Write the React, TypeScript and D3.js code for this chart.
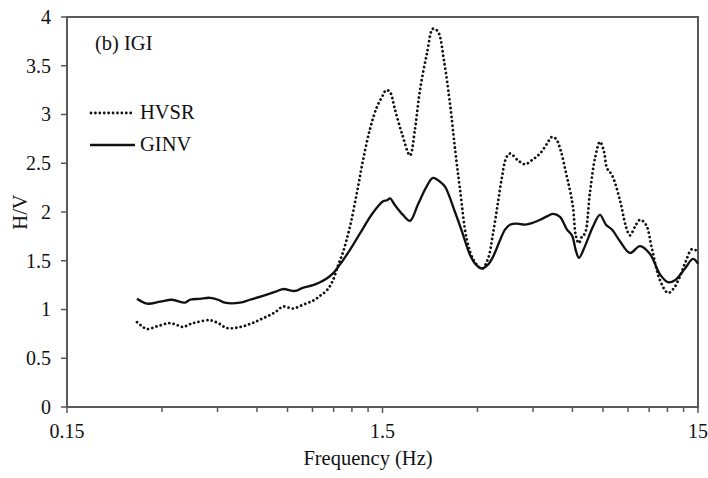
import React from "react";
import * as d3 from "d3";

// Frequency samples (Hz) and spectral ratios for station IGI
const hvsrFreq = [
  0.250, 0.259, 0.269, 0.291, 0.318, 0.335, 0.350, 0.368, 0.387, 0.426,
  0.452, 0.482, 0.530, 0.579, 0.627, 0.684, 0.726, 0.781, 0.840, 0.903,
  0.951, 1.001, 1.045, 1.084, 1.125, 1.183, 1.245, 1.301, 1.369, 1.441,
  1.506, 1.539, 1.584, 1.643, 1.730, 1.833, 1.901, 1.972, 2.076, 2.168,
  2.249, 2.350, 2.455, 2.546, 2.641, 2.779, 2.925, 3.101, 3.239, 3.360,
  3.485, 3.588, 3.694, 3.803, 4.032, 4.244, 4.499, 4.735, 4.982, 5.168,
  5.321, 5.518, 5.723, 5.893, 6.023, 6.156, 6.293, 6.432, 6.574, 6.818,
  7.072, 7.335, 7.552, 7.719, 8.006, 8.487, 8.868, 9.131, 9.470, 9.821,
  10.261, 10.721, 11.367, 12.050, 12.589, 13.152, 13.740, 14.355, 14.891,
];
const hvsrValue = [
  0.87, 0.83, 0.80, 0.83, 0.86, 0.84, 0.82, 0.85, 0.87, 0.89,
  0.86, 0.81, 0.82, 0.86, 0.91, 0.97, 1.03, 1.01, 1.05, 1.09,
  1.14, 1.20, 1.30, 1.45, 1.59, 1.85, 2.20, 2.53, 2.85, 3.08,
  3.20, 3.25, 3.23, 3.05, 2.80, 2.58, 2.85, 3.25, 3.63, 3.88,
  3.85, 3.55, 3.11, 2.65, 2.23, 1.71, 1.50, 1.42, 1.52, 1.78,
  2.10, 2.36, 2.55, 2.60, 2.53, 2.49, 2.54, 2.60, 2.70, 2.77,
  2.75, 2.62, 2.40, 2.22, 2.05, 1.75, 1.68, 1.75, 1.78, 2.20,
  2.55, 2.72, 2.62, 2.45, 2.38, 2.12, 1.85, 1.76, 1.85, 1.92,
  1.87, 1.62, 1.30, 1.17, 1.22, 1.34, 1.50, 1.62, 1.60,
];

const ginvFreq = [
  0.250, 0.269, 0.296, 0.323, 0.355, 0.368, 0.396, 0.426, 0.452, 0.475,
  0.530, 0.570, 0.627, 0.684, 0.726, 0.792, 0.834, 0.903, 0.951, 1.001,
  1.045, 1.076, 1.166, 1.273, 1.390, 1.506, 1.550, 1.584, 1.643, 1.742,
  1.833, 1.944, 2.061, 2.168, 2.282, 2.367, 2.546, 2.679, 2.841, 2.968,
  3.101, 3.239, 3.360, 3.536, 3.667, 3.803, 4.003, 4.244, 4.499, 4.735,
  5.019, 5.205, 5.478, 5.765, 5.979, 6.156, 6.293, 6.574, 6.969, 7.335,
  7.663, 8.006, 8.487, 9.131, 9.821, 10.565, 11.367, 12.050, 12.681, 13.640,
  14.461, 15.000,
];
const ginvValue = [
  1.11, 1.06, 1.08, 1.10, 1.07, 1.10, 1.11, 1.12, 1.10, 1.07,
  1.07, 1.10, 1.14, 1.18, 1.21, 1.19, 1.22, 1.25, 1.28, 1.32,
  1.37, 1.42, 1.58, 1.78, 1.98, 2.11, 2.12, 2.14, 2.07, 1.97,
  1.91, 2.08, 2.25, 2.35, 2.31, 2.26, 2.00, 1.80, 1.56, 1.46,
  1.42, 1.46, 1.54, 1.71, 1.82, 1.87, 1.88, 1.87, 1.89, 1.92,
  1.96, 1.98, 1.95, 1.82, 1.76, 1.60, 1.53, 1.65, 1.85, 1.97,
  1.87, 1.82, 1.70, 1.58, 1.65, 1.57, 1.36, 1.28, 1.30, 1.42,
  1.52, 1.47,
];

const yTicks = [0, 0.5, 1, 1.5, 2, 2.5, 3, 3.5, 4];
const yTickLabels = ["0", "0.5", "1", "1.5", "2", "2.5", "3", "3.5", "4"];
const xMajor = [0.15, 1.5, 15];
const xMajorLabels = ["0.15", "1.5", "15"];
const xMinorMultipliers = [2, 3, 4, 5, 6, 7, 8, 9];

const seriesNames = ["HVSR", "GINV"];
const panelTitle = "(b) IGI";
const xTitle = "Frequency (Hz)";
const yTitle = "H/V";

const W = 708;
const H = 478;
const margin = { left: 67, right: 10, top: 17, bottom: 71 };
const FONT = '"Liberation Serif", "Times New Roman", Times, "DejaVu Serif", serif';
const AXIS = "#595959";
const INK = "#111";
const DOTS = "0.01 4.4";

export default function App() {
  const x = d3
    .scaleLog()
    .domain([0.15, 15])
    .range([margin.left, W - margin.right]);
  const y = d3
    .scaleLinear()
    .domain([0, 4])
    .range([H - margin.bottom, margin.top]);

  const line = d3
    .line<[number, number]>()
    .x((d) => x(d[0]))
    .y((d) => y(d[1]))
    .curve(d3.curveCatmullRom.alpha(0.5));

  const hvsr = hvsrFreq.map((f, i) => [f, hvsrValue[i]] as [number, number]);
  const ginv = ginvFreq.map((f, i) => [f, ginvValue[i]] as [number, number]);

  const minorTicks: number[] = [];
  xMajor.slice(0, -1).forEach((m) =>
    xMinorMultipliers.forEach((k) => minorTicks.push(m * k))
  );

  const [x0, x1] = x.range();
  const [y0, y1] = y.range();
  const textStyle = { fontFamily: FONT };

  return (
    <svg
      width={W}
      height={H}
      style={{ position: "absolute", left: 0, top: 0, background: "#fff", fontFamily: FONT }}
    >
      <rect x={0} y={0} width={W} height={H} fill="#fff" />

      {/* frame */}
      <path
        d={`M${x0},${y0}V${y1}H${x1}V${y0}Z`}
        fill="none"
        stroke={AXIS}
        strokeWidth={2}
      />

      {/* y axis ticks and labels */}
      {yTicks.map((t, i) => (
        <g key={"y" + t}>
          <line x1={x0 - 6} x2={x0} y1={y(t)} y2={y(t)} stroke={AXIS} strokeWidth={1.5} />
          <text
            x={x0 - 16}
            y={y(t)}
            dy="0.34em"
            textAnchor="end"
            fontSize={20}
            fill={INK}
            style={textStyle}
          >
            {yTickLabels[i]}
          </text>
        </g>
      ))}

      {/* x axis ticks */}
      {minorTicks.map((t) => (
        <line key={"m" + t} x1={x(t)} x2={x(t)} y1={y0} y2={y0 + 5} stroke={AXIS} strokeWidth={1.5} />
      ))}
      {xMajor.map((t, i) => (
        <g key={"x" + t}>
          <line x1={x(t)} x2={x(t)} y1={y0} y2={y0 + 6} stroke={AXIS} strokeWidth={1.5} />
          <text x={x(t)} y={438} textAnchor="middle" fontSize={20} fill={INK} style={textStyle}>
            {xMajorLabels[i]}
          </text>
        </g>
      ))}

      {/* axis titles */}
      <text x={368} y={465} textAnchor="middle" fontSize={20.5} fill={INK} style={textStyle}>
        {xTitle}
      </text>
      <text
        transform={`translate(27,${(y0 + y1) / 2}) rotate(-90)`}
        textAnchor="middle"
        fontSize={20.5}
        fill={INK}
        style={textStyle}
      >
        {yTitle}
      </text>

      {/* series */}
      <path
        d={line(ginv) || ""}
        fill="none"
        stroke={INK}
        strokeWidth={2.3}
        strokeLinejoin="round"
      />
      <path
        d={line(hvsr) || ""}
        fill="none"
        stroke={INK}
        strokeWidth={2.8}
        strokeDasharray={DOTS}
        strokeLinecap="round"
      />

      {/* legend */}
      <text x={95} y={50} fontSize={20.5} fill={INK} style={textStyle}>
        {panelTitle}
      </text>
      <line
        x1={91}
        x2={135}
        y1={113}
        y2={113}
        stroke={INK}
        strokeWidth={2.8}
        strokeDasharray={DOTS}
        strokeLinecap="round"
      />
      <text x={140} y={119} fontSize={20.5} fill={INK} style={textStyle}>
        {seriesNames[0]}
      </text>
      <line x1={90} x2={135} y1={145} y2={145} stroke={INK} strokeWidth={2.3} />
      <text x={140} y={151} fontSize={20.5} fill={INK} style={textStyle}>
        {seriesNames[1]}
      </text>
    </svg>
  );
}
